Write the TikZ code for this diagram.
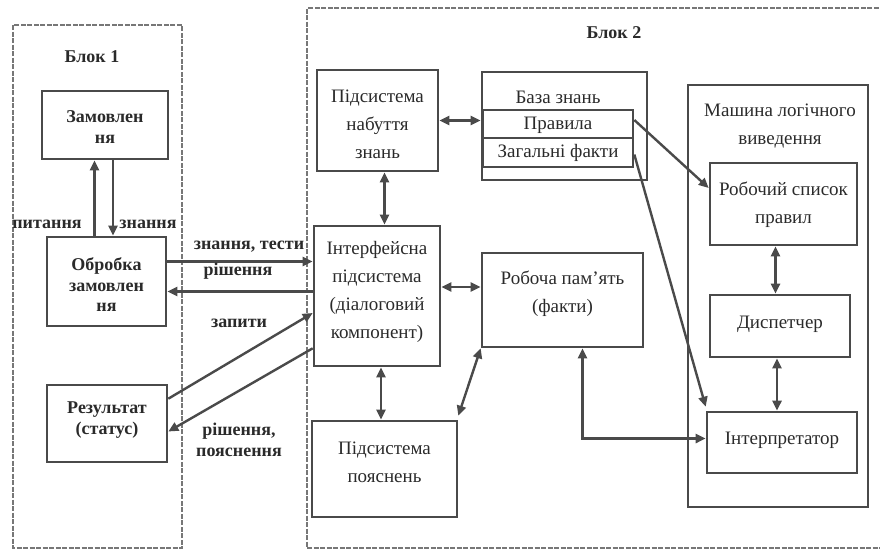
\documentclass[tikz,border=0pt]{standalone}
\usepackage{fontspec}
\setmainfont{Liberation Serif}
\usetikzlibrary{arrows.meta,calc}
\definecolor{ln}{HTML}{4A4A4A}
\definecolor{tx}{HTML}{2A2A2A}
\tikzset{
  x=1pt, y=-1pt,
  box/.style={draw=ln, line width=2.6pt, inner sep=0pt},
  blk/.style={draw=ln!75, line width=1.6pt, dash pattern=on 5pt off 1.5pt},
  t1/.style={text=tx, align=center, font=\bfseries\fontsize{18}{20.5}\selectfont},
  t2/.style={text=tx, align=center, font=\fontsize{19}{28}\selectfont},
  conn/.style={draw=ln, line width=2.4pt},
  ar/.style={conn, -{Triangle[length=10pt,width=9pt]}},
  dar/.style={conn, {Triangle[length=10pt,width=9pt]}-{Triangle[length=10pt,width=9pt]}},
}
\begin{document}
\begin{tikzpicture}
\useasboundingbox (0,0) rectangle (880,550);
% blocks
\draw[blk] (13,25) rectangle (182,548);
\draw[blk] (885,8) -- (307,8) -- (307,548) -- (885,548);
\node[t1] (b1) at (92,57) {Блок 1};
\node[t1] (b2) at (614,33) {Блок 2};
% Block 1 boxes
\node[box, minimum width=126pt, minimum height=68pt] (zam) at (105,125) {};
\node[t1] at (105,127) {Замовлен\\ня};
\node[box, minimum width=119pt, minimum height=89pt] (obr) at (106.5,281.5) {};
\node[t1] at (106.5,285) {Обробка\\замовлен\\ня};
\node[box, minimum width=120pt, minimum height=77pt] (res) at (107,423.5) {};
\node[t1] at (107,420) {Результат\\(статус)};
% Block 2 boxes
\node[box, minimum width=121pt, minimum height=101pt] (nab) at (377.5,120.5) {};
\node[t2] at (377.5,124) {Підсистема\\набуття\\знань};
\node[box, minimum width=165pt, minimum height=108pt] (bz) at (564.5,126) {};
\node[t2] at (558,97) {База знань};
\node[box, minimum width=150pt, minimum height=28pt] (pr) at (558,124) {};
\node[t2] at (558,125) {Правила};
\node[box, minimum width=150pt, minimum height=29pt] (zf) at (558,152.5) {};
\node[t2] at (558,153) {Загальні факти};
\node[box, minimum width=126pt, minimum height=140pt] (int) at (377,296) {};
\node[t2] at (377,292) {Інтерфейсна\\підсистема\\(діалоговий\\компонент)};
\node[box, minimum width=161pt, minimum height=94pt] (rp) at (562.5,300) {};
\node[t2] at (562.5,294) {Робоча пам’ять\\(факти)};
\node[box, minimum width=145pt, minimum height=96pt] (poy) at (384.5,469) {};
\node[t2] at (384.5,462) {Підсистема\\пояснень};
\node[box, minimum width=180pt, minimum height=422pt] (mash) at (778,296) {};
\node[t2] at (780,126) {Машина логічного\\виведення};
\node[box, minimum width=147pt, minimum height=82pt] (rsp) at (783.5,204) {};
\node[t2] at (783.5,205) {Робочий список\\правил};
\node[box, minimum width=140pt, minimum height=62pt] (dis) at (780,326) {};
\node[t2] at (780,324) {Диспетчер};
\node[box, minimum width=150pt, minimum height=61pt] (intp) at (782,442.5) {};
\node[t2] at (782,440) {Інтерпретатор};
% Block 1 connectors
\draw[ar] ([xshift=-12pt]obr.north) -- ([xshift=-12pt]obr.north |- zam.south);
\draw[ar] ([xshift=8pt]zam.south) -- ([xshift=8pt]zam.south |- obr.north);
\node[t1] (lp) at (47,224) {питання};
\node[t1] (lz) at (148,224) {знання};
% between blocks
\draw[ar] ([yshift=20pt]obr.east) -- ([yshift=20pt]obr.east -| int.west);
\draw[ar] ([yshift=-10pt]obr.east -| int.west) -- ([yshift=-10pt]obr.east);
\draw[ar] ([yshift=-15pt]res.north east) -- ([yshift=-17pt]int.west);
\draw[ar] ([yshift=19pt]int.south west) -- ([yshift=-8pt]res.east);
\node[t1] (l1) at (249,247) {знання, тести};
\node[t1] (l2) at (238,271) {рішення};
\node[t1] (l3) at (239,323) {запити};
\node[t1] (l4) at (239,440) {рішення,\\пояснення};
% Block 2 connectors
\draw[dar] (nab.east) -- (nab.east -| bz.west);
\draw[dar] ([xshift=7pt]nab.south) -- ([xshift=7pt]nab.south |- int.north);
\draw[dar] ([yshift=9pt]int.east) -- ([yshift=9pt]int.east -| rp.west);
\draw[dar] ([xshift=4pt]int.south) -- ([xshift=4pt]int.south |- poy.north);
\draw[dar] ([yshift=4pt]poy.north east) -- (rp.south west);
\draw[ar] ([yshift=4pt]pr.east) -- ([yshift=16pt]rsp.west);
\draw[ar] ([yshift=-2pt]zf.east) -- ([yshift=4pt]intp.north west);
\draw[dar] ([xshift=20pt]rp.south) |- ([yshift=4pt]intp.west);
\draw[dar] ([xshift=-8pt]rsp.south) -- ([xshift=-8pt]rsp.south |- dis.north);
\draw[dar] ([xshift=-3pt]dis.south) -- ([xshift=-3pt]dis.south |- intp.north);
\end{tikzpicture}
\end{document}
